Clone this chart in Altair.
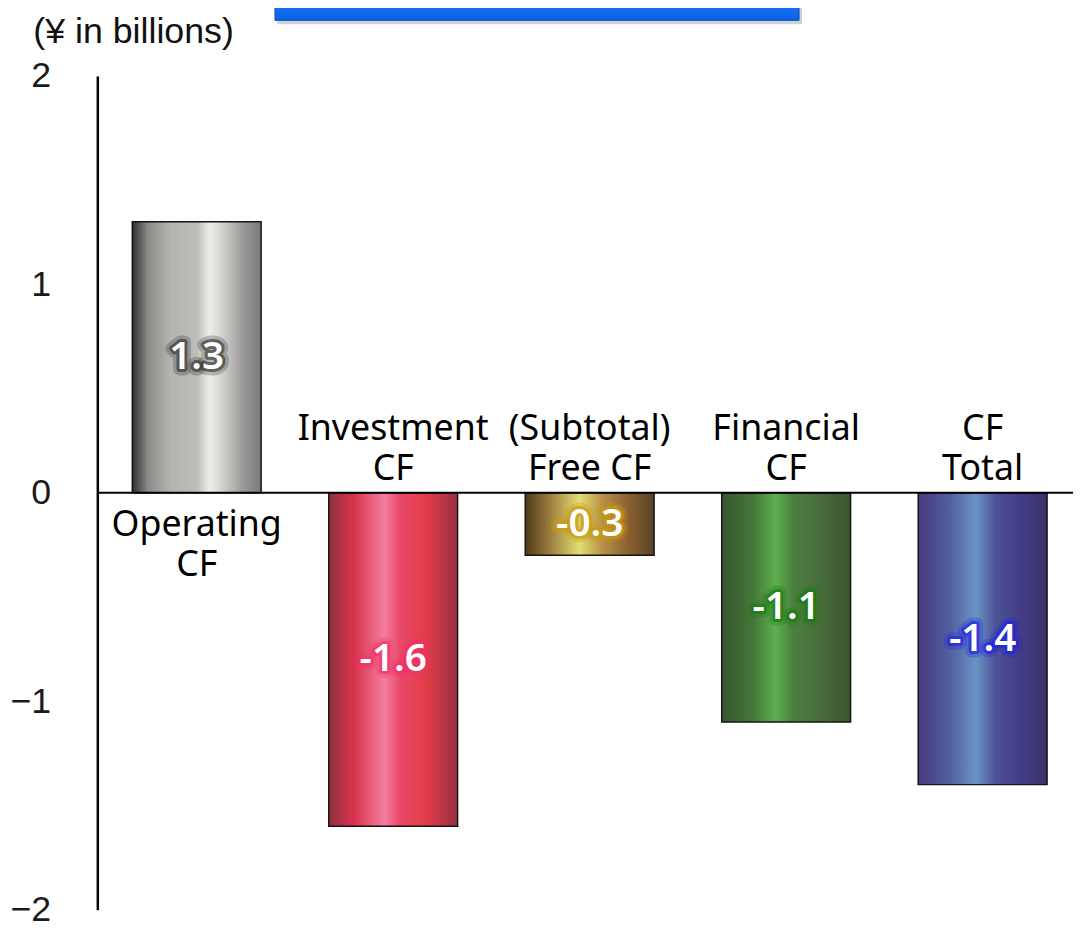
import altair as alt
import pandas as pd

categories = ["Operating CF", "Investment CF", "(Subtotal) Free CF", "Financial CF", "CF Total"]
label_lines = ["Operating\nCF", "Investment\nCF", "(Subtotal)\nFree CF", "Financial\nCF", "CF\nTotal"]
values = [1.3, -1.6, -0.3, -1.1, -1.4]
value_text = ["1.3", "-1.6", "-0.3", "-1.1", "-1.4"]
y_ticks = [-2, -1, 0, 1, 2]

df = pd.DataFrame({"cat": categories, "label": label_lines, "value": values, "vtext": value_text})
df["mid"] = df["value"] / 2

# styles (not data)
gradients = {
    "Operating CF": [(0, "#2e2e2e"), (0.12, "#8a8a88"), (0.3, "#b4b4b0"), (0.5, "#bdbdb8"), (0.6, "#eeeee8"), (0.68, "#d8d8d2"), (0.85, "#9c9c9c"), (1, "#7a7a7a")],
    "Investment CF": [(0, "#8f3040"), (0.2, "#d8344c"), (0.43, "#f47ea0"), (0.55, "#e84a6a"), (0.75, "#e43c48"), (1, "#983040")],
    "(Subtotal) Free CF": [(0, "#4e3818"), (0.2, "#a08040"), (0.42, "#e2de72"), (0.6, "#b89048"), (0.8, "#8a6030"), (1, "#5a4226")],
    "Financial CF": [(0, "#37552c"), (0.25, "#46783a"), (0.42, "#5cb04e"), (0.55, "#4c8040"), (0.8, "#456a38"), (1, "#3a542e")],
    "CF Total": [(0, "#463a7c"), (0.25, "#5260a0"), (0.45, "#6a94c4"), (0.6, "#4c5296"), (0.8, "#433c86"), (1, "#38336c")],
}
glow = ["#333333", "#f0306a", "#c89a10", "#1a7a10", "#2222dd"]

W = 983
H = 840

xscale = alt.Scale(domain=categories, paddingInner=0.3443, paddingOuter=0.155, align=0.574)
yscale = alt.Scale(domain=[-2, 2], nice=False, zero=False)
yaxis = alt.Axis(values=y_ticks, format="d", grid=False, ticks=False, labelPadding=47,
                 labelFont="Liberation Sans", labelFontSize=36, labelColor="#1a1a1a",
                 domainColor="#000000", domainWidth=2.5,
                 title="(¥ in billions)", titleAngle=0, titleAlign="left",
                 titleBaseline="alphabetic", titleX=-65, titleY=-34,
                 titleFont="Liberation Sans", titleFontSize=36,
                 titleFontWeight="normal", titleColor="#111111")

X = alt.X("cat:N", scale=xscale, axis=None, sort=categories)
base = alt.Chart(df)

bars = []
for c in categories:
    stops = [alt.GradientStop(offset=o, color=col) for o, col in gradients[c]]
    b = base.transform_filter(alt.datum.cat == c).mark_bar(
        color=alt.Gradient(gradient="linear", x1=0, x2=1, y1=0, y2=0, stops=stops),
        stroke="#151515", strokeWidth=1.5,
    ).encode(
        x=X,
        y=alt.Y("value:Q", scale=yscale, axis=yaxis),
        y2=alt.datum(0),
    )
    bars.append(b)

zero = alt.Chart(pd.DataFrame({"z": [0]})).mark_rule(color="#000000", strokeWidth=2).encode(
    y=alt.Y("z:Q", scale=yscale, axis=yaxis)
)

Y0 = alt.Y(datum=0, scale=yscale, axis=yaxis)
lab_common = dict(font="Noto Sans", fontSize=36, color="#000000", lineBreak="\n", lineHeight=40, align="center")
lab_neg = base.transform_filter(alt.datum.value < 0).mark_text(baseline="bottom", dy=-45, **lab_common).encode(
    x=X, y=Y0, text="label:N"
)
lab_pos = base.transform_filter(alt.datum.value >= 0).mark_text(baseline="top", dy=16, **lab_common).encode(
    x=X, y=Y0, text="label:N"
)

glow_scale = alt.Scale(domain=categories, range=glow)
val_common = dict(font="Noto Sans", fontSize=39, fontWeight=600, align="center", baseline="middle")
Ymid = alt.Y("mid:Q", scale=yscale, axis=yaxis)
glow1 = base.mark_text(strokeWidth=13, strokeOpacity=0.3, strokeJoin="round", **val_common).encode(
    x=X, y=Ymid, text="vtext:N",
    stroke=alt.Stroke("cat:N", scale=glow_scale, legend=None),
    color=alt.Color("cat:N", scale=glow_scale, legend=None),
)
glow2 = base.mark_text(strokeWidth=6, strokeOpacity=0.65, strokeJoin="round", **val_common).encode(
    x=X, y=Ymid, text="vtext:N",
    stroke=alt.Stroke("cat:N", scale=glow_scale, legend=None),
    color=alt.Color("cat:N", scale=glow_scale, legend=None),
)
vals = base.mark_text(color="#ffffff", **val_common).encode(
    x=X, y=Ymid, text="vtext:N"
)

deco = alt.Chart(pd.DataFrame({"d": [0]}))
shadow = deco.mark_rect(color="#000000", opacity=0.18, cornerRadius=2).encode(
    x=alt.value(181), x2=alt.value(710), y=alt.value(-90), y2=alt.value(-52)
)
banner = deco.mark_rect(
    color=alt.Gradient(gradient="linear", x1=0, x2=0, y1=0, y2=1,
                       stops=[alt.GradientStop(offset=0, color="#2a86ff"), alt.GradientStop(offset=1, color="#0a62e6")]),
    stroke="#0a4fc0", strokeWidth=1,
).encode(x=alt.value(179), x2=alt.value(707), y=alt.value(-90), y2=alt.value(-56))

chart = alt.layer(*bars, zero, lab_neg, lab_pos, glow1, glow2, vals, shadow, banner).properties(
    width=W, height=H,
    background="#ffffff",
    autosize=alt.AutoSizeParams(type="none"),
    padding={"left": 90, "top": 65, "right": 0, "bottom": 15},
).resolve_scale(color="independent", stroke="independent").configure_view(stroke=None)

chart.save("out.html", embed_options={"renderer": "svg", "actions": False})
